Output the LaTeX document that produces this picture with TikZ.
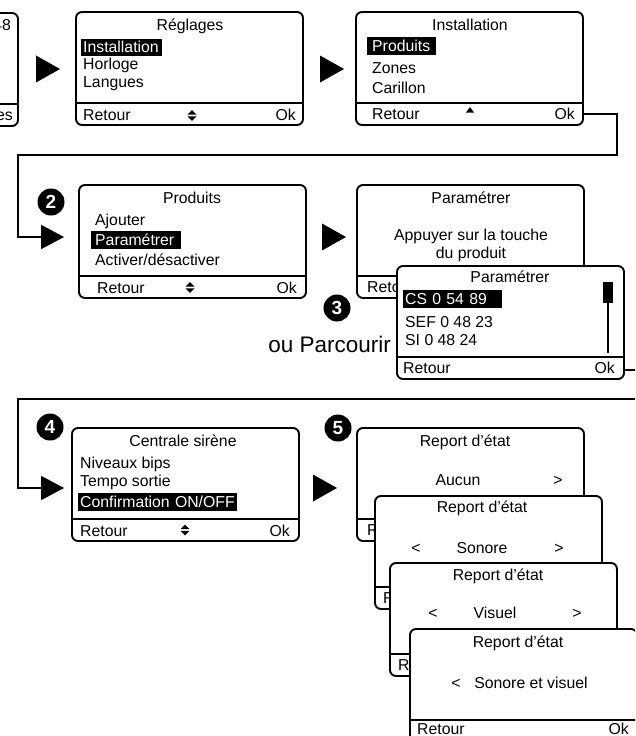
\documentclass[tikz,border=0pt]{standalone}
\usepackage{fontspec}
\setmainfont{Liberation Sans}
\usetikzlibrary{calc,arrows.meta}
\newcommand\scrfont{\fontsize{15.8}{18}\selectfont}
\newcommand\scr[3]{%
  \node[screen] (#1) at (#2,#3) {};
  \draw[sepline] ($(#1.south west)+(0,-23)$) -- ($(#1.south east)+(0,-23)$);}
\begin{document}
\begin{tikzpicture}[x=1pt,y=-1pt,
  every node/.style={inner sep=0pt, font=\scrfont},
  screen/.style={draw, line width=1.9pt, rounded corners=6pt, fill=white,
    minimum width=227pt, minimum height=113pt},
  sepline/.style={line width=1.9pt},
  txt/.style={anchor=west, text height=12.5pt, text depth=2pt},
  ttl/.style={text height=12.5pt, text depth=2pt},
  hl/.style={txt, fill=black, text=white, inner xsep=2pt, inner ysep=1.5pt, align=left},
  conn/.style={line width=1.9pt, -{Triangle[length=23pt,width=24pt]}},
  num/.style={circle, fill=black, text=white, minimum size=27pt, inner sep=0pt,
    font=\bfseries\fontsize{19}{19}\selectfont},
  updown/.pic={\fill (-4.5,-0.8) -- (4.5,-0.8) -- (0,-5.5) -- cycle;
               \fill (-4.5,0.8) -- (4.5,0.8) -- (0,5.5) -- cycle;}
]
\useasboundingbox (0,0) rectangle (635,736);
\clip (0,0) rectangle (635,736);

% partial first screen
\scr{s0}{-95.5}{69.5}
\node[txt,anchor=east] (s0a) at (11,25) {48};
\node[txt,anchor=east] (s0b) at (13,115) {es};

\fill (36,55.5) -- (60,69) -- (36,82.5) -- cycle;

% Reglages
\scr{reg}{189.5}{68.5}
\node[ttl] (reg-t) at (190,25) {Réglages};
\node[hl,text width=77pt] (reg-1) at (81,47.5) {\mbox{Installation}};
\node[txt] (reg-2) at (83,64) {Horloge};
\node[txt] (reg-3) at (83,82) {Langues};
\node[txt] (reg-r) at (83,115) {Retour};
\pic at (192,115.5) {updown};
\node[txt,anchor=east] (reg-ok) at (296,115) {Ok};

\fill (320,55.5) -- (344,69) -- (320,82.5) -- cycle;

% Installation
\scr{inst}{469.5}{68.5}
\node[ttl] (inst-t) at (470,25) {Installation};
\node[hl,text width=65pt] (inst-1) at (367,46) {\mbox{\hspace{3pt}Produits}};
\node[txt] (inst-2) at (372,68) {Zones};
\node[txt] (inst-3) at (372,88) {Carillon};
\node[txt] (inst-r) at (372,114) {Retour};
\fill (466,112.5) -- (474,112.5) -- (470,107) -- cycle;
\node[txt,anchor=east] (inst-ok) at (575,114) {Ok};

% Produits
\node[num] (n2) at (51,202) {2};
\scr{prod}{192.5}{241.5}
\node[ttl] (prod-t) at (192,198) {Produits};
\node[txt] (prod-1) at (95,220) {Ajouter};
\node[hl,text width=86pt] (prod-2) at (91,240) {\mbox{\hspace{2pt}Paramétrer}};
\node[txt] (prod-3) at (95,260) {Activer/désactiver};
\node[txt] (prod-r) at (97,288) {Retour};
\pic at (190,287.5) {updown};
\node[txt,anchor=east] (prod-ok) at (297,288) {Ok};

\draw[conn] ($(inst.south east)+(0,-12)$) -| (617,155) -| (18,237) -- ($(prod.west)+(-14,-4.5)$);

\fill (322,223.5) -- (346,237) -- (322,250.5) -- cycle;

% Parametrer 1
\scr{par1}{470.5}{241.5}
\node[ttl] (par1-t) at (471,198) {Paramétrer};
\node[ttl] (par1-a) at (471,235) {Appuyer sur la touche};
\node[ttl] (par1-b) at (471,253) {du produit};
\node[txt] (par1-r) at (367,287) {Retour};
\node[txt,anchor=east] (par1-ok) at (577,287) {Ok};

\node[num] (n3) at (337,308) {3};
\node[anchor=east, font=\fontsize{22.5}{26}\selectfont] (oup) at (391,344) {ou Parcourir};

% Parametrer list
\scr{list}{510.5}{322.5}
\node[ttl] (list-t) at (510,277) {Paramétrer};
\node[hl,text width=95pt] (list-1) at (403,299) {\mbox{CS 0 54 89}};
\node[txt] (list-2) at (405,322) {SEF 0 48 23};
\node[txt] (list-3) at (405,340) {SI 0 48 24};
\fill (603,282) rectangle (613,303);
\draw[line width=1.5pt] (608,303) -- (608,353);
\node[txt] (list-r) at (403,368) {Retour};
\node[txt,anchor=east] (list-ok) at (615,368) {Ok};

% Centrale sirene
\node[num] (n4) at (50,427) {4};
\scr{cen}{185.5}{484.5}
\node[ttl] (cen-t) at (183,441) {Centrale sirène};
\node[txt] (cen-1) at (80,463) {Niveaux bips};
\node[txt] (cen-2) at (80,481) {Tempo sortie};
\node[hl,text width=155pt] (cen-3) at (78,502) {\mbox{Confirmation ON/OFF}};
\node[txt] (cen-r) at (80,531) {Retour};
\pic at (185,530) {updown};
\node[txt,anchor=east] (cen-ok) at (290,531) {Ok};

\draw[conn] ($(list.south east)+(0,-10)$) -| (660,399) -| (18,488) -- ($(cen.west)+(-7,3.5)$);

\fill (313,474.5) -- (337,488) -- (313,501.5) -- cycle;

% Report d'etat stack
\node[num] (n5) at (338,428) {5};
\scr{rep1}{470.5}{484.5}
\node[ttl] (rep1-t) at (465,441) {Report d’état};
\node[ttl] (rep1-v) at (458,480) {Aucun};
\node[ttl] (rep1-g) at (558,480) {>};
\node[txt] (rep1-r) at (367,530) {Retour};
\node[txt,anchor=east] (rep1-ok) at (577,530) {Ok};

\scr{rep2}{488.5}{552.5}
\node[ttl] (rep2-t) at (482,507) {Report d’état};
\node[ttl] (rep2-l) at (416,548) {<};
\node[ttl] (rep2-v) at (482,548) {Sonore};
\node[ttl] (rep2-g) at (559,548) {>};
\node[txt] (rep2-r) at (383,598) {Retour};
\node[txt,anchor=east] (rep2-ok) at (592,598) {Ok};

\scr{rep3}{503.5}{619.5}
\node[ttl] (rep3-t) at (498,575) {Report d’état};
\node[ttl] (rep3-l) at (433,613) {<};
\node[ttl] (rep3-v) at (495,613) {Visuel};
\node[ttl] (rep3-g) at (577,613) {>};
\node[txt] (rep3-r) at (398,665) {Retour};
\node[txt,anchor=east] (rep3-ok) at (609,665) {Ok};

\scr{rep4}{523.5}{685.5}
\node[ttl] (rep4-t) at (518,642) {Report d’état};
\node[ttl] (rep4-l) at (456,683) {<};
\node[ttl] (rep4-v) at (531,683) {Sonore et visuel};
\node[txt] (rep4-r) at (417,729) {Retour};
\node[txt,anchor=east] (rep4-ok) at (629,729) {Ok};
\end{tikzpicture}
\end{document}
